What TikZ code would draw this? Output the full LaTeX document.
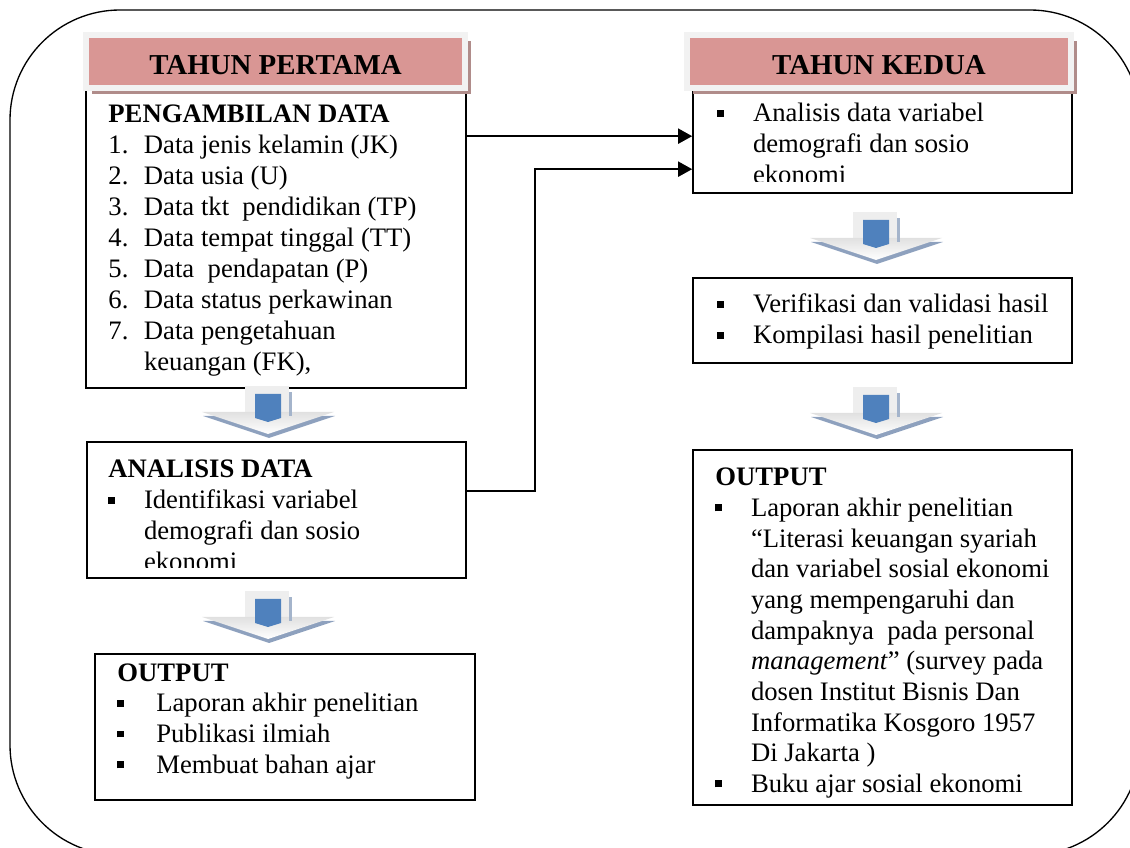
\documentclass[tikz,border=0pt]{standalone}
\usepackage{fontspec}
\setmainfont{Liberation Serif}
\usetikzlibrary{arrows.meta,calc,fit,shadows}
\definecolor{judulmerah}{HTML}{D99694}
\definecolor{bayangjudul}{HTML}{B08C8A}
\definecolor{bingkaijudul}{HTML}{F2F2F2}
\definecolor{birupanah}{HTML}{4F81BD}
\definecolor{bayangpanah}{HTML}{8EA1BE}
\definecolor{latarpanah}{HTML}{EEEEEE}
% bullet kotak kecil dan indentasi daftar
\newcommand{\kotak}{\rule[0.2em]{0.26em}{0.26em}}
\newcommand{\butir}[2][16pt]{\makebox[#1][l]{#2}}
\tikzset{
  boks/.style={draw, line width=0.75pt, inner sep=0pt, fill=white},
  judul/.style={draw=bingkaijudul, line width=2.7pt, fill=judulmerah,
    minimum height=23.85pt, text height=11.8pt, text depth=0pt,
    font=\fontsize{13pt}{15pt}\selectfont\bfseries,
    drop shadow={shadow xshift=2.7pt, shadow yshift=-2.7pt, fill=bayangjudul, opacity=1}},
  isi/.style={anchor=base west, inner sep=0pt, font=\fontsize{12pt}{13.9pt}\selectfont},
  alur/.style={line width=0.9pt, -{Triangle[length=6.3pt,width=6.75pt]}}
}
\begin{document}
\begin{tikzpicture}[x=0.45pt, y=-0.45pt]
  \useasboundingbox (0,0) rectangle (1130,848);
  % bingkai luar
  \draw[line width=0.6pt, rounded corners=49.5pt] (10,10) rectangle (1140,855);

  % --- kolom kiri: tahun pertama ---
  \node[boks, fit={(86,88) (466,388)}] (data) {};
  \node[judul, minimum width=170.55pt] (pertama) at (275.5,61.5) {TAHUN PERTAMA};
  \node[isi] (t-data) at (108,123) {\begin{tabular}[t]{@{}l@{}}
    \textbf{PENGAMBILAN DATA}\\
    \butir{1.}Data jenis kelamin (JK)\\
    \butir{2.}Data usia (U)\\
    \butir{3.}Data tkt~ pendidikan (TP)\\
    \butir{4.}Data tempat tinggal (TT)\\
    \butir{5.}Data~ pendapatan (P)\\
    \butir{6.}Data status perkawinan\\
    \butir{7.}Data pengetahuan\\
    \butir{}keuangan (FK),
  \end{tabular}};

  \node[boks, fit={(87,442) (466,578)}] (analisis) {};
  \begin{scope}
    \clip (87,442) rectangle (466,568);
    \node[isi] (t-analisis) at (108,478) {\begin{tabular}[t]{@{}l@{}}
      \textbf{ANALISIS DATA}\\
      \butir{\kotak}Identifikasi variabel\\
      \butir{}demografi dan sosio\\
      \butir{}ekonomi
    \end{tabular}};
  \end{scope}

  \node[boks, fit={(95,654) (475,800)}] (outkiri) {};
  \node[isi] (t-outkiri) at (117,681) {\begin{tabular}[t]{@{}l@{}}
    \textbf{OUTPUT}\\
    \butir[17.5pt]{\kotak}Laporan akhir penelitian\\
    \butir[17.5pt]{\kotak}Publikasi ilmiah\\
    \butir[17.5pt]{\kotak}Membuat bahan ajar
  \end{tabular}};

  % --- kolom kanan: tahun kedua ---
  \node[boks, fit={(693,88) (1072,193)}] (kedua1) {};
  \node[judul, minimum width=172.8pt] (kedua) at (879,61.5) {TAHUN KEDUA};
  \begin{scope}
    \clip (693,92) rectangle (1072,182);
    \node[isi] (t-kedua1) at (717,122) {\begin{tabular}[t]{@{}l@{}}
      \butir{\kotak}Analisis data variabel\\
      \butir{}demografi dan sosio\\
      \butir{}ekonomi
    \end{tabular}};
  \end{scope}

  \node[boks, fit={(693,278) (1072,363)}] (verif) {};
  \node[isi] (t-verif) at (717,313) {\begin{tabular}[t]{@{}l@{}}
    \butir{\kotak}Verifikasi dan validasi hasil\\
    \butir{\kotak}Kompilasi hasil penelitian
  \end{tabular}};

  \node[boks, fit={(693,450) (1072,805)}] (outkanan) {};
  \node[isi, font=\fontsize{12pt}{13.8pt}\selectfont] (t-outkanan) at (715,486) {\begin{tabular}[t]{@{}l@{}}
    \textbf{OUTPUT}\\
    \butir{\kotak}Laporan akhir penelitian\\
    \butir{}“Literasi keuangan syariah\\
    \butir{}dan variabel sosial ekonomi\\
    \butir{}yang mempengaruhi dan\\
    \butir{}dampaknya~ pada personal\\
    \butir{}\textit{management}” (survey pada\\
    \butir{}dosen Institut Bisnis Dan\\
    \butir{}Informatika Kosgoro 1957\\
    \butir{}Di Jakarta )\\
    \butir{\kotak}Buku ajar sosial ekonomi
  \end{tabular}};

  % panah blok ke bawah
  \foreach \cx/\cy in {268/386, 268/591, 876/212, 876/387}{
    \fill[latarpanah] (\cx-23,\cy) rectangle (\cx+21,\cy+34);
    \fill[bayangpanah] (\cx-65,\cy+30) -- (\cx+67,\cy+30) -- (\cx+1,\cy+52) -- cycle;
    \shade[top color=black!12, bottom color=white] (\cx-66,\cy+26) -- (\cx+66,\cy+26) -- (\cx,\cy+48) -- cycle;
    \fill[birupanah] (\cx-13,\cy+8) -- (\cx+13,\cy+8) -- (\cx+13,\cy+32) -- (\cx,\cy+36) -- (\cx-13,\cy+32) -- cycle;
    \fill[bayangpanah!80] (\cx+21,\cy+6) rectangle (\cx+24,\cy+30);
  }

  % penghubung antar tahun
  \coordinate (a1) at ($(data.north east)+(0,49)$);
  \draw[alur] (a1) -- (a1 -| kedua1.west);
  \coordinate (b1) at ($(analisis.north east)+(0,50)$);
  \coordinate (b2) at ($(kedua1.north west)+(0,82)$);
  \draw[alur] (b1) -- ++(68,0) |- (b2);
\end{tikzpicture}
\end{document}
